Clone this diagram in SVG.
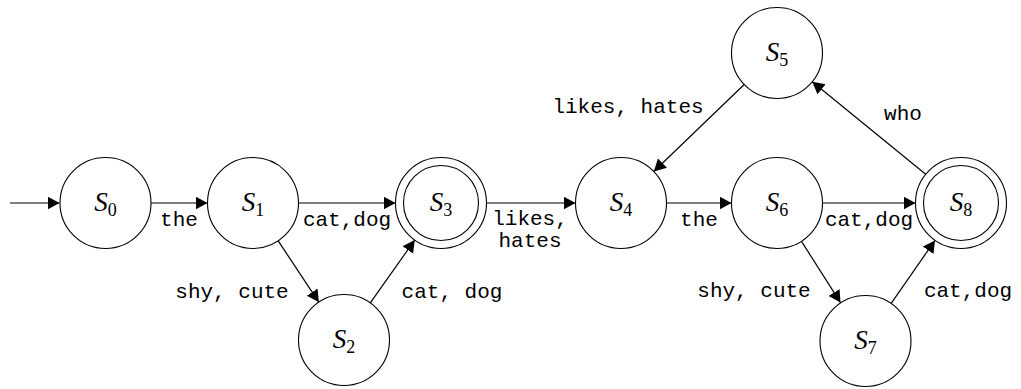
<svg xmlns="http://www.w3.org/2000/svg" width="1021" height="389" viewBox="0 0 1021 389">
<style>
.st{fill:#fff;stroke:#000;stroke-width:1.1}
.in{fill:none;stroke:#000;stroke-width:1.1}
.nl{font-family:"Liberation Serif",serif;font-size:27px;font-style:italic;text-anchor:middle}
.sub{font-style:normal;font-size:18px}
.lb{font-family:"Liberation Mono",monospace;font-size:21px;text-anchor:middle}
.e{fill:none;stroke:#000;stroke-width:1.2;marker-end:url(#ah)}
</style>
<defs>
<marker id="ah" markerUnits="userSpaceOnUse" markerWidth="13" markerHeight="14" refX="12" refY="6.5" orient="auto">
<path d="M0,0 L12,6.5 L0,13 z" fill="#000"/>
</marker>
</defs>
<g id="connectors">
<line class="e" x1="10" y1="203" x2="59.5" y2="203"/>
<line class="e" x1="150.5" y1="203" x2="207.5" y2="203"/>
<line class="e" x1="298.5" y1="203" x2="395.5" y2="203"/>
<line class="e" x1="486.5" y1="203" x2="575.5" y2="203"/>
<line class="e" x1="666.5" y1="203" x2="731.5" y2="203"/>
<line class="e" x1="822.5" y1="203" x2="915.5" y2="203"/>
<line class="e" x1="278.2" y1="240.9" x2="318.8" y2="302.1"/>
<line class="e" x1="370.3" y1="302.9" x2="414.7" y2="240.1"/>
<line class="e" x1="744.2" y1="84.5" x2="653.8" y2="171.5"/>
<line class="e" x1="925.7" y1="174.3" x2="812.3" y2="81.7"/>
<line class="e" x1="801.5" y1="241.4" x2="840.5" y2="302.6"/>
<line class="e" x1="891" y1="303.6" x2="935" y2="240.4"/>
<text class="lb" x="179" y="226">the</text>
<text class="lb" x="347" y="226">cat,dog</text>
<text class="lb" x="530" y="225">likes,</text>
<text class="lb" x="530" y="247">hates</text>
<text class="lb" x="232" y="298">shy, cute</text>
<text class="lb" x="452" y="298">cat, dog</text>
<text class="lb" x="628" y="113">likes, hates</text>
<text class="lb" x="903" y="120">who</text>
<text class="lb" x="699" y="226">the</text>
<text class="lb" x="869" y="226">cat,dog</text>
<text class="lb" x="754" y="297">shy, cute</text>
<text class="lb" x="968" y="297">cat,dog</text>
</g>
<g id="S0"><circle class="st" cx="105.5" cy="203" r="45.5"/><text class="nl" x="105.5" y="211">S<tspan class="sub" dy="5">0</tspan></text></g>
<g id="S1"><circle class="st" cx="253" cy="203" r="45.5"/><text class="nl" x="253" y="211">S<tspan class="sub" dy="5">1</tspan></text></g>
<g id="S2"><circle class="st" cx="344" cy="340" r="45.5"/><text class="nl" x="344" y="348">S<tspan class="sub" dy="5">2</tspan></text></g>
<g id="S3"><circle class="st" cx="441" cy="203" r="45.5"/><circle class="in" cx="441" cy="203" r="37.5"/><text class="nl" x="441" y="211">S<tspan class="sub" dy="5">3</tspan></text></g>
<g id="S4"><circle class="st" cx="621" cy="203" r="45.5"/><text class="nl" x="621" y="211">S<tspan class="sub" dy="5">4</tspan></text></g>
<g id="S5"><circle class="st" cx="777" cy="53" r="45.5"/><text class="nl" x="777" y="61">S<tspan class="sub" dy="5">5</tspan></text></g>
<g id="S6"><circle class="st" cx="777" cy="203" r="45.5"/><text class="nl" x="777" y="211">S<tspan class="sub" dy="5">6</tspan></text></g>
<g id="S7"><circle class="st" cx="865.5" cy="341" r="45.5"/><text class="nl" x="865.5" y="349">S<tspan class="sub" dy="5">7</tspan></text></g>
<g id="S8"><circle class="st" cx="961" cy="203" r="45.5"/><circle class="in" cx="961" cy="203" r="37.5"/><text class="nl" x="961" y="211">S<tspan class="sub" dy="5">8</tspan></text></g>
</svg>
